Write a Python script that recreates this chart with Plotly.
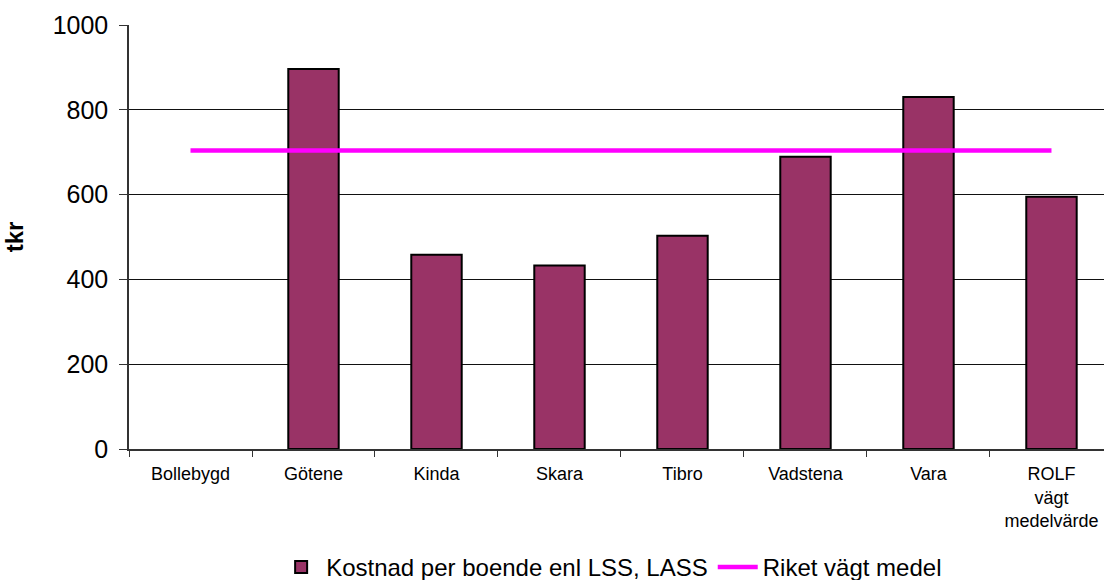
import plotly.graph_objects as go

# Municipalities on the category axis
categories = ["Bollebygd", "Götene", "Kinda", "Skara", "Tibro", "Vadstena", "Vara",
              "ROLF<br>vägt<br>medelvärde"]
# Cost per resident (tkr); Bollebygd has no reported value
cost_per_resident = [None, 896, 458, 433, 503, 689, 830, 595]
# National weighted mean (tkr), same value for every category
national_mean = [704] * len(categories)

FONT = "Arial, Liberation Sans, sans-serif"

fig = go.Figure()

fig.add_trace(go.Bar(
    x=categories,
    y=cost_per_resident,
    name="Kostnad per boende enl LSS, LASS",
    width=0.41,
    marker=dict(color="#993366", line=dict(color="#000000", width=2)),
))

fig.add_trace(go.Scatter(
    x=categories,
    y=national_mean,
    name="Riket vägt medel",
    mode="lines",
    line=dict(color="#FF00FF", width=4.5),
))

fig.update_layout(
    width=1104,
    height=580,
    margin=dict(l=129, r=0, t=25, b=131, autoexpand=False),
    paper_bgcolor="white",
    plot_bgcolor="white",
    font=dict(family=FONT, color="#000000"),
    showlegend=True,
    legend=dict(
        orientation="h",
        x=0.495, xanchor="center",
        y=-0.279, yanchor="middle",
        font=dict(size=24, family=FONT),
        bgcolor="rgba(0,0,0,0)",
        itemwidth=40,
        tracegroupgap=0,
    ),
    xaxis=dict(
        type="category",
        range=[-0.5, 7.427],
        showgrid=False,
        showline=True,
        linecolor="#333333",
        linewidth=1.5,
        ticks="outside",
        tickson="boundaries",
        ticklen=6,
        tickcolor="#333333",
        tickfont=dict(size=18, family=FONT),
        ticklabelstandoff=8,
        zeroline=False,
    ),
    yaxis=dict(
        range=[0, 1000],
        tickvals=[0, 200, 400, 600, 800, 1000],
        showgrid=True,
        gridcolor="#111111",
        gridwidth=1,
        showline=True,
        linecolor="#333333",
        linewidth=1.5,
        ticks="outside",
        ticklen=8,
        tickcolor="#333333",
        tickfont=dict(size=25, family=FONT),
        ticklabelstandoff=6,
        zeroline=False,
        title=dict(text="<b>tkr</b>", font=dict(size=24, family=FONT), standoff=22),
    ),
)

fig.write_html("out.html")
